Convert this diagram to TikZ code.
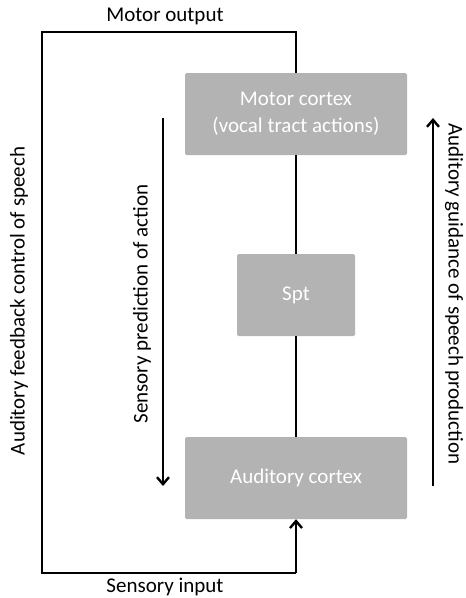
\documentclass[tikz,border=0pt]{standalone}
\usepackage{fontspec}
\setmainfont{Carlito}
\usetikzlibrary{arrows.meta}
\definecolor{boxgray}{RGB}{179,179,179}
\begin{document}
\begin{tikzpicture}[x=1pt,y=-1pt,
  font=\fontsize{21}{27}\selectfont,
  cortexbox/.style={fill=boxgray, draw=none, rounded corners=1.5pt, text=white, align=center, inner sep=0pt},
  wire/.style={line width=2.4pt, draw=black},
  tip/.style={-{Straight Barb[length=7pt,width=12pt,line width=2.4pt]}},
  lbl/.style={inner sep=0pt, text=black}]
\useasboundingbox (0,0) rectangle (466,598);
\fill[white] (0,0) rectangle (466,598);
% boxes
\node[cortexbox, minimum width=222pt, minimum height=82pt] (motor) at (296,114) {Motor cortex\\(vocal tract actions)};
\node[cortexbox, minimum width=118pt, minimum height=82pt] (spt) at (296,295) {Spt};
\node[cortexbox, minimum width=222pt, minimum height=82pt] (aud) at (296,478) {Auditory cortex};
% loop corners
\coordinate (tl) at (42,32);
\coordinate (tr) at (296,32);
\coordinate (bl) at (42,573);
\coordinate (br) at (296,573);
\draw[wire, line join=miter] (motor.north) -- (tr) -- (tl) -- (bl) -- (br);
\draw[wire, tip] (br) -- (aud.south);
\draw[wire] (motor.south) -- (spt.north);
\draw[wire] (spt.south) -- (aud.north);
% side arrows
\coordinate (la1) at (163,118);
\coordinate (la2) at (163,486);
\coordinate (ra1) at (433,486);
\coordinate (ra2) at (433,118);
\draw[wire, tip] (la1) -- (la2);
\draw[wire, tip] (ra1) -- (ra2);
% labels
\node[lbl] (mo) at (165,16) {Motor output};
\node[lbl] (si) at (165,587) {Sensory input};
\node[lbl, rotate=90] (afc) at (19,301) {Auditory feedback control of speech};
\node[lbl, rotate=90] (spa) at (142,304) {Sensory prediction of action};
\node[lbl, rotate=-90] (ags) at (454,294) {Auditory guidance of speech production};
\end{tikzpicture}
\end{document}
